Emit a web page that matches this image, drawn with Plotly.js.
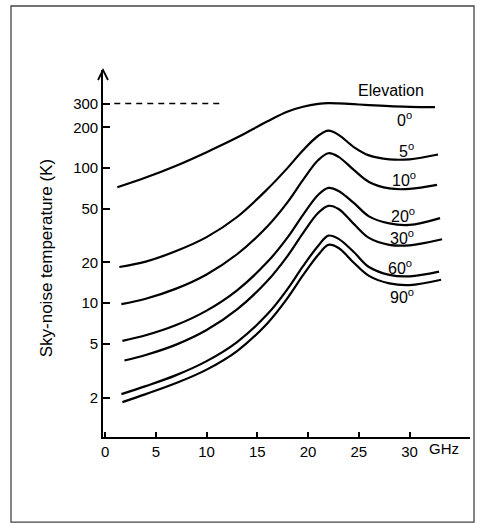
<!DOCTYPE html>
<html>
<head>
<meta charset="utf-8">
<script src="https://cdn.plot.ly/plotly-3.0.1.min.js"></script>
<style>
  html, body { margin: 0; padding: 0; background: #ffffff; }
  #chart { width: 481px; height: 524px; }
</style>
</head>
<body>
<div id="chart"></div>
<script>
// ---- data ----
const elevations = ['0', '5', '10', '20', '30', '60', '90'];
const startFreq = [1.2, 1.4, 1.6, 1.7, 1.9, 1.6, 1.7];           // GHz
const freqGrid  = [4, 7, 10, 13, 16, 18, 19.5, 21, 22, 23, 24.5, 26, 28, 30];
const endFreq   = [32.5, 32.8, 32.7, 33.0, 33.2, 32.9, 33.1];      // GHz

const temp0  = [72, 85, 104, 131, 168, 222, 262, 284, 298, 302, 301, 297, 292, 287, 284, 282];
const temp5  = [18.5, 20.3, 24.3, 30.8, 43.4, 69.9, 100.7, 135.6, 173.4, 189, 176, 143, 124, 116, 116, 126];
const temp10 = [9.83, 10.78, 12.8, 16.3, 23.0, 37.1, 56.2, 81.8, 114.6, 128.7, 121, 96.8, 78.9, 70.6, 70.0, 75.0];
const temp20 = [5.26, 5.78, 6.88, 8.80, 12.44, 20.2, 30.8, 45.0, 63.4, 71.3, 67.7, 55.2, 43.9, 38.9, 37.9, 42.6];
const temp30 = [3.76, 4.13, 4.93, 6.32, 8.98, 14.64, 22.5, 33.0, 46.6, 52.5, 49.8, 38.6, 30.4, 27.0, 26.8, 29.7];
const temp60 = [2.12, 2.43, 2.93, 3.72, 5.15, 8.29, 12.8, 18.78, 26.6, 31.6, 29.9, 23.9, 18.5, 16.2, 15.8, 17.1];
const temp90 = [1.85, 2.12, 2.56, 3.22, 4.42, 7.11, 10.98, 16.11, 22.8, 27.0, 25.6, 19.9, 15.9, 14.0, 13.6, 14.9];

const refLevel = 300;            // dashed reference level (K)
const refSpan  = [0.9, 11.5];    // GHz

const xTickVals = [0, 5, 10, 15, 20, 25, 30];
const xTickText = ['0', '5', '10', '15', '20', '25', '30'];
const yTickVals = [2, 5, 10, 20, 50, 100, 200, 300];
const yTickText = ['2', '5', '10', '20', '50', '100', '200', '300'];

const labelText = elevations.map(e => e + '<sup>o</sup>');
const labelPos = [ // paper coords of the elevation labels
  [0.822, 0.866], [0.828, 0.782], [0.820, 0.702], [0.818, 0.605],
  [0.815, 0.546], [0.810, 0.464], [0.814, 0.383]
];

// ---- build ----
const temps = [temp0, temp5, temp10, temp20, temp30, temp60, temp90];
const FONT = 'Liberation Sans, Arial, Helvetica, sans-serif';

const traces = temps.map((t, i) => ({
  type: 'scatter', mode: 'lines',
  x: [startFreq[i]].concat(freqGrid, [endFreq[i]]),
  y: t,
  line: { color: '#000', width: 2.2, shape: 'spline', smoothing: 1 },
  hoverinfo: 'skip', showlegend: false
}));

traces.push({
  type: 'scatter', mode: 'lines',
  x: refSpan, y: [refLevel, refLevel],
  line: { color: '#000', width: 1.4, dash: '6px,5px' },
  hoverinfo: 'skip', showlegend: false
});

const annotations = labelText.map((txt, i) => ({
  xref: 'paper', yref: 'paper', x: labelPos[i][0], y: labelPos[i][1],
  xanchor: 'center', yanchor: 'middle', showarrow: false,
  text: txt, font: { family: FONT, size: 16, color: '#000' }
}));
annotations.push({
  xref: 'paper', yref: 'paper', x: 0.786, y: 0.945,
  xanchor: 'center', yanchor: 'middle', showarrow: false,
  text: 'Elevation', font: { family: FONT, size: 16, color: '#000' }
});
annotations.push({
  xref: 'paper', yref: 'paper', x: 0.928, y: -0.031,
  xanchor: 'center', yanchor: 'middle', showarrow: false,
  text: 'GHz', font: { family: FONT, size: 15, color: '#000' }
});
annotations.push({
  xref: 'paper', yref: 'paper', x: -0.1535, y: 0.486,
  xanchor: 'center', yanchor: 'middle', showarrow: false, textangle: -90,
  text: 'Sky-noise temperature (K)', font: { family: FONT, size: 17, color: '#000' }
});

const layout = {
  width: 481, height: 524,
  margin: { l: 103, r: 11, t: 70, b: 87, pad: 0 },
  paper_bgcolor: '#fff', plot_bgcolor: '#fff',
  showlegend: false,
  xaxis: {
    range: [-0.21, 35.95], showgrid: false, zeroline: false,
    showline: true, linecolor: '#000', linewidth: 1.8,
    ticks: 'inside', ticklen: 5, tickwidth: 1.8, tickcolor: '#000',
    tickvals: xTickVals, ticktext: xTickText,
    tickfont: { family: FONT, size: 15, color: '#000' }
  },
  yaxis: {
    type: 'log', range: [0.009, 2.7256], showgrid: false, zeroline: false,
    showline: true, linecolor: '#000', linewidth: 1.8,
    ticks: 'inside', ticklen: 7, tickwidth: 2, tickcolor: '#000',
    tickvals: yTickVals, ticktext: yTickText,
    tickfont: { family: FONT, size: 15, color: '#000' }
  },
  annotations: annotations,
  shapes: [
    { type: 'path', xref: 'paper', yref: 'paper', xsizemode: 'pixel', ysizemode: 'pixel',
      xanchor: 0, yanchor: 1, path: 'M -5,-10 L 0,0 L 5,-10',
      line: { color: '#000', width: 1.8 } },
    { type: 'rect', xref: 'paper', yref: 'paper',
      x0: -0.2507, x1: 1.0109, y0: -0.232, y1: 1.1744,
      line: { color: '#444', width: 1.3 } }
  ]
};

Plotly.newPlot('chart', traces, layout, { staticPlot: true, displayModeBar: false });
</script>
</body>
</html>
